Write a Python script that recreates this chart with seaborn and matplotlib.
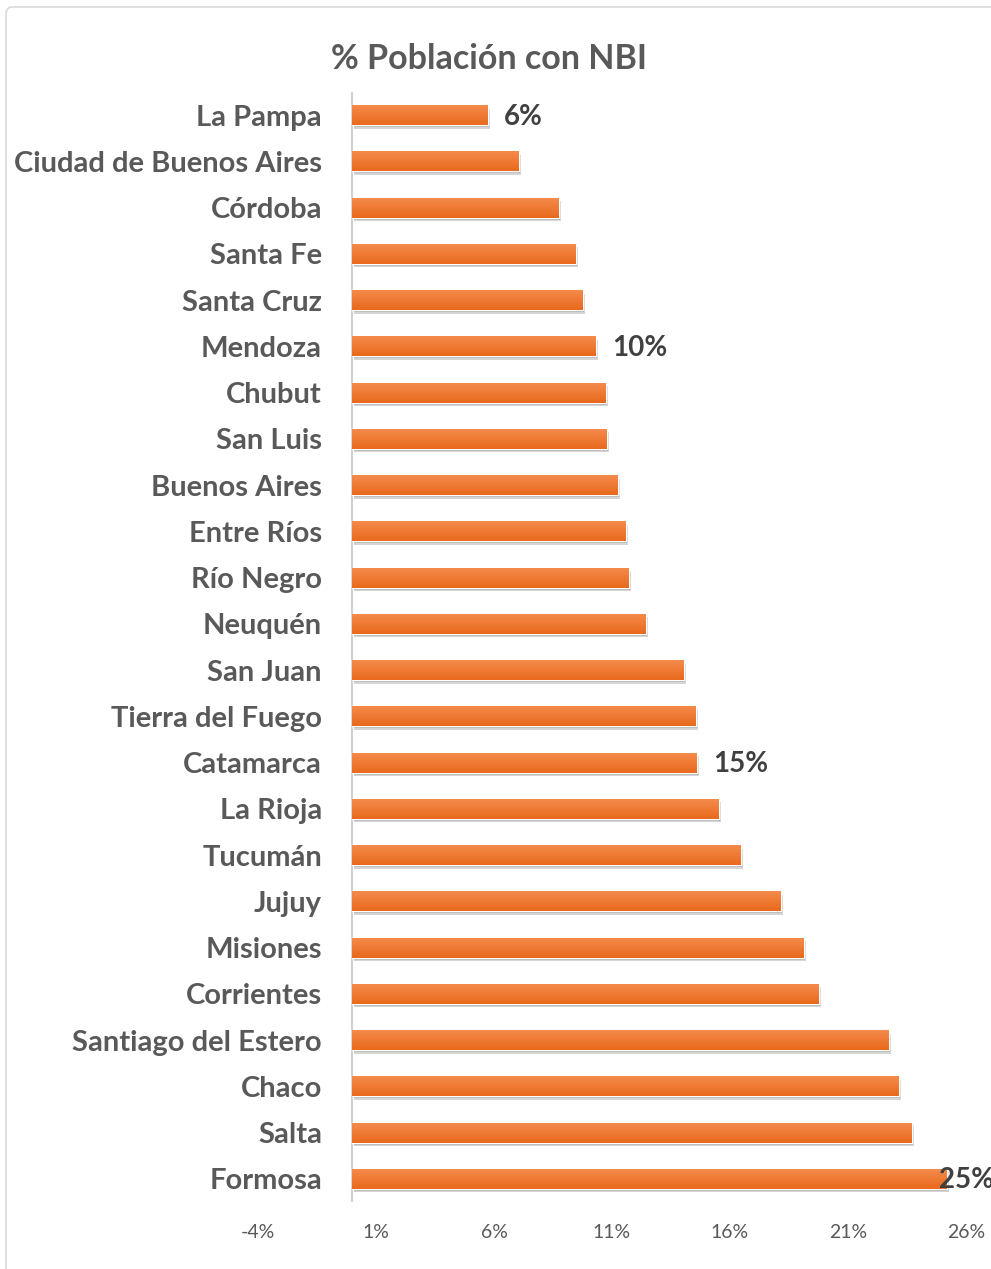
import numpy as np
import pandas as pd
import matplotlib
matplotlib.use("Agg")
import matplotlib.pyplot as plt
import matplotlib.patheffects as pe
from matplotlib.patches import FancyBboxPatch
from matplotlib.ticker import FixedLocator, FuncFormatter
import seaborn as sns

provincias = ["La Pampa", "Ciudad de Buenos Aires", "Córdoba", "Santa Fe", "Santa Cruz",
              "Mendoza", "Chubut", "San Luis", "Buenos Aires", "Entre Ríos", "Río Negro",
              "Neuquén", "San Juan", "Tierra del Fuego", "Catamarca", "La Rioja", "Tucumán",
              "Jujuy", "Misiones", "Corrientes", "Santiago del Estero", "Chaco", "Salta",
              "Formosa"]
nbi = [5.75, 7.06, 8.75, 9.47, 9.77, 10.32, 10.75, 10.8, 11.25, 11.59, 11.72, 12.44,
       14.05, 14.56, 14.6, 15.53, 16.47, 18.16, 19.13, 19.77, 22.74, 23.16, 23.71, 25.2]
etiquetas = {"La Pampa": "6%", "Mendoza": "10%", "Catamarca": "15%", "Formosa": "25%"}
ticks_x = [-4, 1, 6, 11, 16, 21, 26]
titulo = "% Población con NBI"

sns.set_style("white")
plt.rcParams["font.family"] = ["Lato", "DejaVu Sans"]

W, H = 991, 1269
fig = plt.figure(figsize=(W / 100, H / 100), dpi=100)
left_px, right_px, top_px, bot_px = 234.4, 989.6, 92, 1202
ax = fig.add_axes([left_px / W, 1 - bot_px / H, (right_px - left_px) / W, (bot_px - top_px) / H])

df = pd.DataFrame({"prov": provincias, "nbi": nbi})
sns.barplot(data=df, x="nbi", y="prov", orient="h", color="#ED7D31", width=0.43,
            ax=ax, saturation=1)

# gradient + soft shadow on bars
grad = np.linspace(0, 1, 64).reshape(-1, 1)
cmap = matplotlib.colors.LinearSegmentedColormap.from_list("g", ["#F48B4C", "#E8691C"])
for p in ax.patches:
    p.set_path_effects([pe.SimplePatchShadow(offset=(1.5, -2.5), alpha=0.22, shadow_rgbFace="#444444"),
                        pe.SimplePatchShadow(offset=(0.8, -1.5), alpha=0.25, shadow_rgbFace="#444444"),
                        pe.Normal()])
    x0, y0 = p.get_x(), p.get_y()
    w, h = p.get_width(), p.get_height()
    im = ax.imshow(grad, extent=(x0, x0 + w, y0 + h, y0), cmap=cmap, aspect="auto",
                   origin="upper", zorder=p.get_zorder() + 0.1, interpolation="bicubic")
    im.set_clip_path(p)
ax.set_xlim(-5, 27)
ax.set_ylim(len(provincias) - 0.5, -0.5)

ax.axvline(0, color="#D0D0D0", lw=1.5, zorder=0.5)
for s in ax.spines.values():
    s.set_visible(False)

ax.xaxis.set_major_locator(FixedLocator(ticks_x))
ax.xaxis.set_major_formatter(FuncFormatter(lambda v, _: f"{v:.0f}%"))
ax.tick_params(axis="x", length=0, pad=16, labelsize=14, labelcolor="#595959")
ax.tick_params(axis="y", length=0, pad=-63, labelsize=21, labelcolor="#595959")
for t in ax.get_yticklabels():
    t.set_fontweight("bold")
ax.set_xlabel("")
ax.set_ylabel("")

for i, (prov, v) in enumerate(zip(provincias, nbi)):
    if prov in etiquetas:
        off = 11.5 if prov != "Formosa" else -6
        ax.annotate(etiquetas[prov], xy=(v, i), xytext=(off, -1), textcoords="offset points",
                    ha="left", va="center", fontsize=20, fontweight="bold", color="#404040",
                    annotation_clip=False, zorder=5)

fig.text(489 / W, 1 - 59 / H, titulo, ha="center", va="center", fontsize=24.5,
         fontweight="bold", color="#595959")

border = FancyBboxPatch((6 / W, -0.05), 1.1, 1 - 7 / H + 0.05, boxstyle="round,pad=0,rounding_size=0.006",
                        transform=fig.transFigure, fill=False, edgecolor="#D9D9D9", lw=1.2)
fig.patches.append(border)

fig.savefig("out.png", dpi=100)
